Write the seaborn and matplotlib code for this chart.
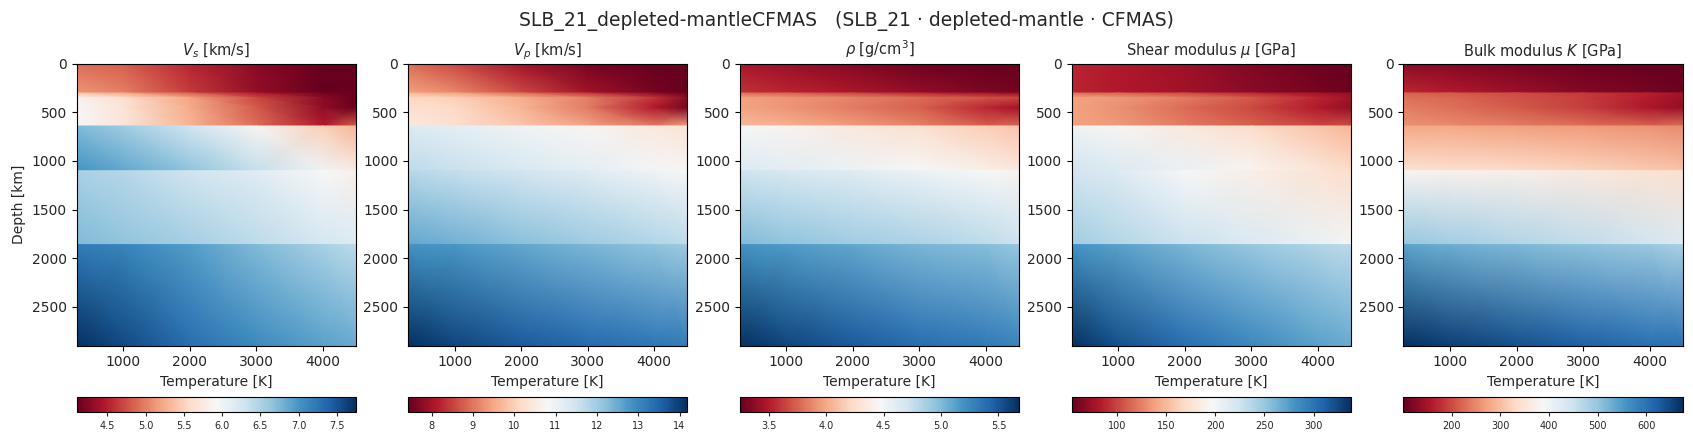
import numpy as np
import matplotlib
matplotlib.use("Agg")
import matplotlib.pyplot as plt
import seaborn as sns

# Style
sns.set_style("ticks")
plt.rcParams['font.family'] = ['DejaVu Sans']

# ----------------------------------------------------------
# Grid nodes (depth rows repeat at the
# discontinuities: 300, 640, 1100 and 1860 km)
# ----------------------------------------------------------
temperature = [300, 1000, 2000, 3000, 4000, 4500]
depth = [0, 300, 300, 350, 450, 640, 640, 1100, 1100, 1860, 1860, 2900]

vs = [
    [4.90, 4.83, 4.54, 4.28, 4.10, 4.10],
    [5.12, 5.01, 4.65, 4.32, 4.10, 4.10],
    [5.41, 5.20, 4.83, 4.47, 4.17, 4.10],
    [5.85, 5.63, 5.20, 4.72, 4.28, 4.10],
    [5.90, 5.67, 5.25, 4.80, 4.30, 4.12],
    [5.93, 5.71, 5.30, 4.90, 4.47, 4.83],
    [6.73, 6.58, 6.29, 5.89, 5.49, 5.30],
    [7.02, 6.87, 6.66, 6.36, 6.00, 5.78],
    [6.51, 6.44, 6.29, 6.14, 5.93, 5.82],
    [6.73, 6.66, 6.55, 6.40, 6.25, 6.18],
    [7.20, 7.13, 6.95, 6.73, 6.51, 6.40],
    [7.75, 7.57, 7.31, 7.09, 6.91, 6.84],
]

vp = [
    [8.92, 8.58, 7.97, 7.57, 7.43, 7.43],
    [9.46, 9.19, 8.58, 7.97, 7.57, 7.43],
    [9.66, 9.46, 8.92, 8.38, 7.77, 7.50],
    [10.13, 10.00, 9.59, 9.12, 8.38, 7.77],
    [10.27, 10.13, 9.66, 9.05, 8.11, 7.57],
    [10.47, 10.27, 9.86, 9.46, 9.05, 9.46],
    [11.28, 11.15, 10.95, 10.74, 10.47, 10.34],
    [11.69, 11.55, 11.35, 11.15, 10.88, 10.74],
    [11.76, 11.62, 11.42, 11.22, 10.95, 10.81],
    [12.57, 12.43, 12.23, 12.03, 11.82, 11.69],
    [12.84, 12.77, 12.57, 12.36, 12.16, 12.03],
    [14.19, 13.92, 13.65, 13.45, 13.24, 13.18],
]

rho = [
    [3.47, 3.42, 3.35, 3.27, 3.25, 3.25],
    [3.59, 3.54, 3.47, 3.40, 3.32, 3.30],
    [3.78, 3.74, 3.64, 3.54, 3.44, 3.40],
    [3.98, 3.93, 3.86, 3.78, 3.69, 3.64],
    [3.98, 3.93, 3.83, 3.74, 3.54, 3.44],
    [4.08, 4.03, 3.95, 3.86, 3.74, 3.78],
    [4.47, 4.42, 4.34, 4.27, 4.17, 4.12],
    [4.64, 4.59, 4.54, 4.47, 4.39, 4.34],
    [4.71, 4.66, 4.61, 4.54, 4.47, 4.42],
    [5.00, 4.95, 4.90, 4.85, 4.78, 4.73],
    [5.19, 5.15, 5.10, 5.02, 4.98, 4.93],
    [5.68, 5.58, 5.49, 5.39, 5.32, 5.27],
]

shear = [
    [88, 82, 74, 65, 57, 54],
    [88, 82, 77, 68, 60, 57],
    [116, 111, 102, 88, 77, 71],
    [139, 134, 122, 108, 88, 77],
    [139, 131, 116, 102, 82, 71],
    [139, 134, 122, 111, 102, 105],
    [202, 193, 182, 170, 156, 148],
    [224, 216, 205, 193, 179, 170],
    [222, 214, 198, 187, 177, 171],
    [246, 238, 226, 216, 205, 199],
    [281, 273, 261, 250, 239, 233],
    [338, 321, 304, 287, 273, 267],
]

bulk = [
    [130, 124, 113, 107, 101, 101],
    [171, 160, 142, 124, 113, 107],
    [218, 212, 200, 185, 165, 150],
    [230, 224, 206, 189, 160, 142],
    [242, 230, 212, 189, 154, 136],
    [259, 253, 242, 230, 218, 230],
    [277, 277, 271, 265, 259, 253],
    [347, 341, 335, 324, 312, 306],
    [382, 376, 371, 359, 347, 341],
    [500, 488, 474, 460, 442, 430],
    [541, 529, 517, 505, 494, 482],
    [675, 658, 640, 623, 605, 599],
]

titles = [r"$V_s$ [km/s]", r"$V_p$ [km/s]", r"$\rho$ [g/cm$^3$]",
          r"Shear modulus $\mu$ [GPa]", r"Bulk modulus $K$ [GPa]"]
fields = [vs, vp, rho, shear, bulk]
cbar_ticks = [[4.5, 5.0, 5.5, 6.0, 6.5, 7.0, 7.5],
              [8, 9, 10, 11, 12, 13, 14],
              [3.5, 4.0, 4.5, 5.0, 5.5],
              [100, 150, 200, 250, 300],
              [200, 300, 400, 500, 600]]

cmap = sns.color_palette("RdBu", as_cmap=True)
T, D = np.meshgrid(temperature, depth)

fig = plt.figure(figsize=(16.93, 4.46), dpi=100)
fig.suptitle("SLB_21_depleted-mantleCFMAS   (SLB_21 · depleted-mantle · CFMAS)",
             fontsize=13.5, y=0.975)

lefts = [0.0453, 0.241, 0.437, 0.633, 0.829]
w = 0.165
for i, (left, field, title) in enumerate(zip(lefts, fields, titles)):
    ax = fig.add_axes([left, 0.225, w, 0.632])
    values = np.array(field, dtype=float)
    mesh = ax.pcolormesh(T, D, values, cmap=cmap, shading='gouraud',
                         vmin=values.min(), vmax=values.max())
    ax.set_xlim(temperature[0], temperature[-1])
    ax.set_ylim(depth[-1], depth[0])
    ax.set_xticks([1000, 2000, 3000, 4000])
    ax.set_yticks([0, 500, 1000, 1500, 2000, 2500])
    ax.tick_params(labelsize=10, length=3.5, color='black')
    for s in ax.spines.values():
        s.set_color('black')
    ax.set_title(title, fontsize=10.5)
    ax.set_xlabel("Temperature [K]", fontsize=10)
    if i == 0:
        ax.set_ylabel("Depth [km]", fontsize=10)

    cax = fig.add_axes([left, 0.076, w, 0.034])
    cb = fig.colorbar(mesh, cax=cax, orientation='horizontal')
    cb.set_ticks(cbar_ticks[i])
    cb.ax.tick_params(labelsize=7, length=3)
    cb.outline.set_edgecolor('black')

fig.savefig("out.png", dpi=100)
